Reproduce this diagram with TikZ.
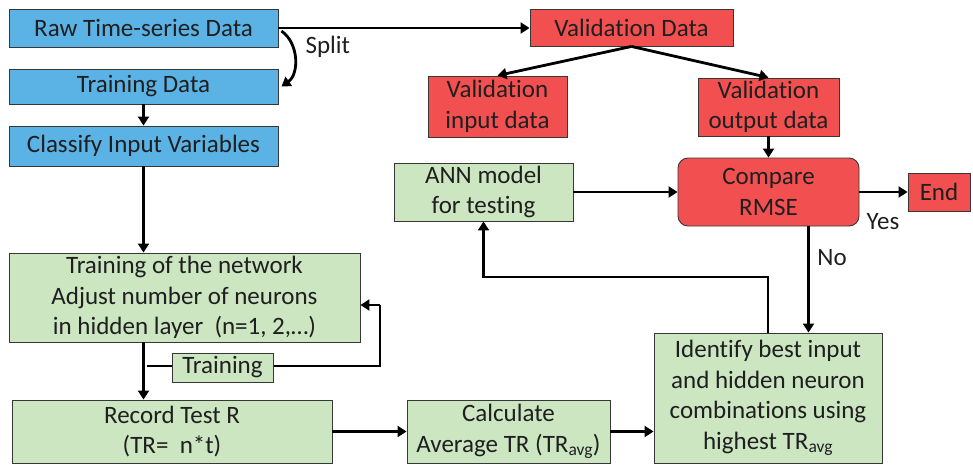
\documentclass[tikz,border=0pt]{standalone}
\usepackage{fontspec}
\setmainfont{Carlito}[Ligatures={NoCommon,NoRequired}, Contextuals=NoAlternate]
\usetikzlibrary{arrows.meta}
\definecolor{boxblue}{RGB}{91,178,228}
\definecolor{boxred}{RGB}{242,80,80}
\definecolor{boxgreen}{RGB}{203,230,193}
\definecolor{edge}{RGB}{55,55,55}
\tikzset{
  base/.style={draw=edge, line width=0.9pt, inner sep=1pt, align=center,
    font=\fontsize{25}{30.5}\selectfont, text=black!88},
  bluebox/.style={base, fill=boxblue},
  redbox/.style={base, fill=boxred},
  greenbox/.style={base, fill=boxgreen},
  arr/.style={line width=2.8pt, -{Triangle[length=9pt,width=11pt]}},
  ln/.style={line width=2.8pt},
  lbl/.style={font=\fontsize{25}{29}\selectfont, text=black!88},
}
\begin{document}
\begin{tikzpicture}[x=1pt,y=1pt]
\useasboundingbox (0,0) rectangle (973,-466);

% left column
\node[bluebox, minimum width=269pt, minimum height=38pt] (raw) at (143.5,-28) {Raw Time-series Data};
\node[bluebox, minimum width=269pt, minimum height=35pt] (train) at (143.5,-86.5) {Training Data};
\node[bluebox, minimum width=269pt, minimum height=40pt] (classify) at (143.5,-146) {Classify Input Variables};
\node[greenbox, minimum width=351pt, minimum height=89pt] (net) at (184.5,-297.5)
  {Training of the network\\Adjust number of neurons\\in hidden layer~~(n=1, 2,…)};
\node[greenbox, minimum width=320pt, minimum height=63pt] (record) at (172,-431.5) {Record Test R\\(TR=~~n*t)};
\node[greenbox, minimum width=203pt, minimum height=63pt] (calc) at (508.5,-431.5) {Calculate\\Average TR (TR\textsubscript{avg})};
\node[greenbox, minimum width=228pt, minimum height=130pt] (ident) at (768,-398)
  {Identify best input\\and hidden neuron\\combinations using\\highest TR\textsubscript{avg}};

% validation branch
\node[redbox, minimum width=203pt, minimum height=37pt] (vd) at (631.5,-27.5) {Validation Data};
\node[redbox, minimum width=139pt, minimum height=61pt] (vin) at (497.5,-106.5) {Validation\\input data};
\node[redbox, minimum width=141pt, minimum height=58pt] (vout) at (768.5,-107) {Validation\\output data};
\node[greenbox, minimum width=179pt, minimum height=58pt] (ann) at (483.5,-192) {ANN model\\for testing};
\node[redbox, rounded corners=10pt, minimum width=181pt, minimum height=68pt] (cmp) at (768.5,-192) {Compare\\RMSE};
\node[redbox, minimum width=62pt, minimum height=38pt] (endn) at (939,-192) {End};

% connectors
\draw[arr] (raw.east) -- (vd.west |- raw.east);
\draw[arr] ([xshift=3pt,yshift=-3pt]raw.east) to[out=-35,in=35] ([xshift=3pt]train.east);
\node[lbl, anchor=west] (split) at (302,-47) {Split};

\draw[arr] (train.south) -- (classify.north);
\draw[arr] (classify.south) -- (classify.south |- net.north);
\draw[arr] (classify.south |- net.south) -- (classify.south |- record.north);

\coordinate (tj) at (147,-366);
\coordinate (tc) at (380,-366);
\coordinate (tu) at (380,-305);
\draw[ln] (tj) -- (tc) -- (tu);
\draw[arr] (tu) -- (net.east |- tu);
\node[greenbox, minimum width=101pt, minimum height=29pt, inner sep=0pt] (trlabel) at (222.5,-367.5) {Training};

\draw[arr] (record.east |- calc.west) -- (calc.west);
\draw[arr] (calc.east) -- (ident.west |- calc.east);

\draw[arr] (vd.south) -- (vin.north);
\draw[arr] (vd.south) -- (vout.north);
\draw[arr] (vout.south) -- (cmp.north);
\draw[arr] (ann.east) -- (cmp.west);
\draw[arr] (cmp.east) -- (endn.west);
\node[lbl] (yes) at (883,-222) {Yes};

\coordinate (nd) at ([xshift=40pt]cmp.south);
\draw[arr] (nd) -- (nd |- ident.north);
\node[lbl] (no) at (832,-258) {No};

\coordinate (lb) at (768,-277);
\draw[arr] (ident.north) -- (lb) -- (lb -| ann.south) -- (ann.south);
\end{tikzpicture}
\end{document}
